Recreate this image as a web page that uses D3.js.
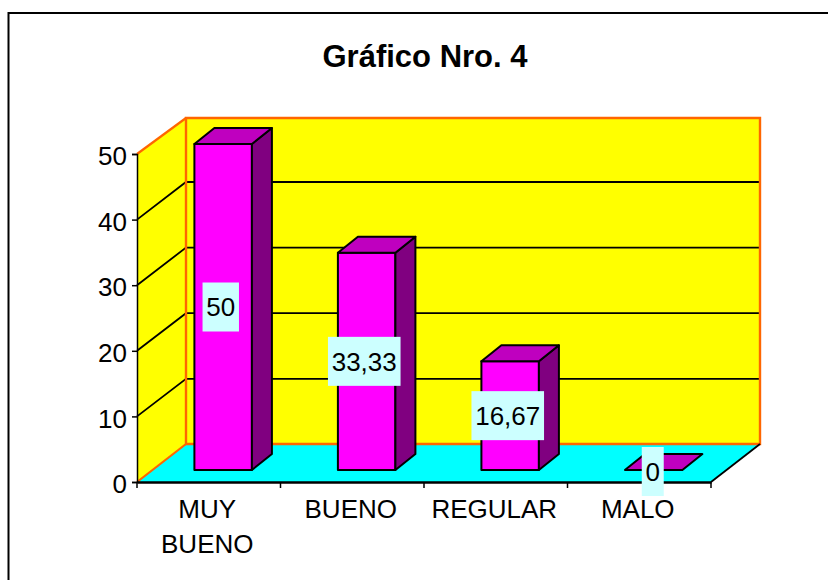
<!DOCTYPE html>
<html><head><meta charset="utf-8">
<script src="https://cdn.jsdelivr.net/npm/d3@7"></script>
<style>html,body{margin:0;padding:0;background:#fff}svg{display:block}text{font-family:"Liberation Sans",Arial,sans-serif;fill:#000}</style>
</head><body><svg id="c" width="828" height="580"></svg>
<script>
const categories=["MUY BUENO","BUENO","REGULAR","MALO"];
const values=[50,33.33,16.67,0];
const valueLabels=["50","33,33","16,67","0"];
const yTicks=[0,10,20,30,40,50];
const titleText="Gráfico Nro. 4";
const svg=d3.select("#c");
const line=d3.line();
const poly=p=>line(p)+"Z";
svg.append("rect").attr("x",8.5).attr("y",13).attr("width",900).attr("height",700).attr("fill","#fff").attr("stroke","#000").attr("stroke-width",2);
svg.append("text").attr("x",425).attr("y",67).attr("text-anchor","middle").attr("font-size",31).attr("font-weight","bold").text(titleText);
const x0=137,xEnd=711,yB=482,dx=49,dy=-38;
const y=d3.scaleLinear().domain([0,50]).range([yB,154]);
const x=d3.scaleBand().domain(categories).range([x0,xEnd]);
svg.append("path").attr("d",poly([[x0,yB],[x0+dx,yB+dy],[xEnd+dx,yB+dy],[xEnd,yB]])).attr("fill","#00ffff");
svg.append("path").attr("d",poly([[x0+dx,y(50)+dy+2],[xEnd+dx,y(50)+dy+2],[xEnd+dx,yB+dy],[x0+dx,yB+dy]])).attr("fill","#ffff00");
svg.append("path").attr("d",poly([[x0,y(50)],[x0+dx,y(50)+dy+2],[x0+dx,yB+dy],[x0,yB]])).attr("fill","#ffff00");
yTicks.filter(d=>d>0&&d<50).forEach(t=>{
  svg.append("path").attr("d",line([[x0,y(t)],[x0+dx,y(t)+dy+0.4],[xEnd+dx,y(t)+dy+0.4]])).attr("fill","none").attr("stroke","#000").attr("stroke-width",1.8);
});
const orange="#ff6600";
svg.append("path").attr("d",poly([[x0+dx,y(50)+dy+2],[xEnd+dx,y(50)+dy+2],[xEnd+dx,yB+dy],[x0+dx,yB+dy]])).attr("fill","none").attr("stroke",orange).attr("stroke-width",2.4);
svg.append("path").attr("d",line([[x0,y(50)],[x0+dx,y(50)+dy+2]])).attr("fill","none").attr("stroke",orange).attr("stroke-width",2.2);
svg.append("path").attr("d",line([[x0,yB],[x0+dx,yB+dy]])).attr("fill","none").attr("stroke",orange).attr("stroke-width",2.2);
svg.append("path").attr("d",line([[xEnd,yB],[xEnd+dx,yB+dy]])).attr("fill","none").attr("stroke","#000").attr("stroke-width",1.8);
svg.append("g").attr("transform",`translate(${x0},0)`).call(d3.axisLeft(y).tickValues(yTicks).tickSize(5).tickPadding(5))
  .call(g=>{g.attr("font-family",null);g.selectAll("text").attr("font-size",26).attr("dy","0.41em");g.selectAll("line").attr("stroke","#000").attr("stroke-width",1.5);g.select(".domain").attr("stroke","#000").attr("stroke-width",1.5);});
svg.append("g").attr("transform",`translate(0,${yB})`).call(d3.axisBottom(x).tickValues(categories).tickFormat("").tickSize(0))
  .call(g=>g.select(".domain").attr("stroke","#000").attr("stroke-width",2.4));
svg.append("g").selectAll("line").data(d3.range(categories.length+1)).join("line")
  .attr("x1",i=>x0+i*x.step()).attr("x2",i=>x0+i*x.step()).attr("y1",yB).attr("y2",yB+6).attr("stroke","#000").attr("stroke-width",1.5);
categories.forEach(c=>{
  const cx=x(c)+x.bandwidth()/2-1.5;
  const parts=c==="MUY BUENO"?c.split(" "):[c];
  parts.forEach((p,j)=>svg.append("text").attr("x",cx).attr("y",518+j*34.5).attr("text-anchor","middle").attr("font-size",26).text(p));
});
const bw=57.5,bInset=57.4,base=470,bdx=20,bdy=-16;
const h=d3.scaleLinear().domain([0,50]).range([base,144]);
categories.forEach((c,i)=>{
  const l=x(c)+bInset,r=l+bw,t=h(values[i]);
  const draw=(pts,f)=>svg.append("path").attr("d",poly(pts)).attr("fill",f).attr("stroke","#000").attr("stroke-width",2).attr("stroke-linejoin","round");
  if(values[i]>0){
    draw([[l,base],[r,base],[r,t],[l,t]],"#ff00ff");
    draw([[r,base],[r+bdx,base+bdy],[r+bdx,t+bdy],[r,t]],"#800080");
  }
  draw([[l,t],[r,t],[r+bdx,t+bdy],[l+bdx,t+bdy]],"#bf00bf");
});
categories.forEach((c,i)=>{
  const l=x(c)+bInset,t=h(values[i]);
  const cy=values[i]>0?(t+base)/2:471.5;
  const cx=l+bw/2-(values[i]>0?2.4:0.9);
  const tx=svg.append("text").attr("x",cx).attr("y",cy).attr("dy","0.36em").attr("text-anchor","middle").attr("font-size",26).text(valueLabels[i]);
  const w=tx.node().getComputedTextLength()+7.5;
  svg.insert("rect",()=>tx.node()).attr("x",cx-w/2).attr("y",cy-24.5).attr("width",w).attr("height",49).attr("fill","#ccffff");
});
</script></body></html>
